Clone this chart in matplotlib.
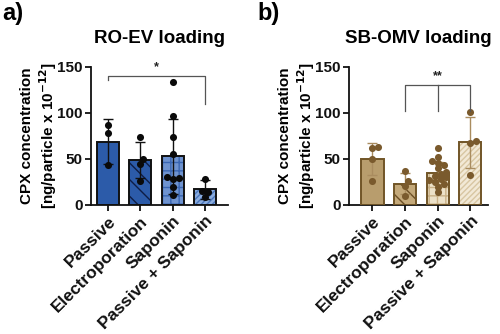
import numpy as np
import matplotlib
matplotlib.use("Agg")
import matplotlib.pyplot as plt

plt.rcParams['font.family'] = ['Liberation Sans', 'DejaVu Sans']
plt.rcParams['font.weight'] = 'bold'
plt.rcParams['hatch.linewidth'] = 1.0

groups = ["Passive", "Electroporation", "Saponin", "Passive + Saponin"]

# RO-EV loading (panel a)
ro_means = [69, 49, 53, 17]
ro_sd = [24, 20, 41, 10]
ro_points = [
    [87, 78, 43],
    [74, 50, 45, 26],
    [134, 97, 74, 55, 30, 29, 28, 20, 11],
    [28, 15, 14, 9],
]

# SB-OMV loading (panel b)
sb_means = [50, 23, 35, 68]
sb_sd = [17, 11.5, 12, 28]
sb_points = [
    [63, 62, 50, 26],
    [37, 26, 21, 10],
    [62, 52, 48, 46, 44, 40, 36, 34, 32, 30, 28, 27, 25, 23, 20, 14],
    [101, 70, 67, 33],
]

yticks = [0, 50, 100, 150]

ro_style = dict(
    face=["#2c5ba9", "#2c5ba9", "#6f93cf", "#8cadde"],
    hatch=[None, "\\\\", "++", "//////"],
    hatch_color=[None, "#0e1d45", "#3a66b2", "#4a76bb"],
    edge="#111111", err="#111111", dot="#0a0a0a",
)
sb_style = dict(
    face=["#b89d6d", "#c4a97a", "#ece1c8", "#f2e9d6"],
    hatch=[None, "\\\\", "++", "//////"],
    hatch_color=[None, "#6b4e24", "#c9b187", "#d8c6a2"],
    edge="#715527", err="#a98c5f", dot="#7a5a2d",
)

FIG_W, FIG_H = 500, 334


def swarm_offsets(vals, px_per_x, px_per_y, d=6.4):
    placed = []
    offs = np.zeros(len(vals))
    for i in np.argsort(vals):
        y = vals[i] * px_per_y
        xs = 0.0
        for k in [0, 1, -1, 2, -2, 3, -3, 4, -4]:
            x = k * d * 0.45
            if all((x - px) ** 2 + (y - py) ** 2 >= d * d * 0.6 for px, py in placed):
                xs = x
                break
        placed.append((xs, y))
        offs[i] = xs / px_per_x
    return offs


def panel(fig, rect_px, xlim, title, means, sds, points, st):
    l, r, b, t = rect_px
    ax = fig.add_axes([l / FIG_W, 1 - b / FIG_H, (r - l) / FIG_W, (b - t) / FIG_H])
    x = np.arange(len(groups))
    w = 0.68
    for i in range(len(groups)):
        if st["hatch"][i]:
            ax.bar(x[i], means[i], w, color=st["face"][i], edgecolor=st["hatch_color"][i],
                   hatch=st["hatch"][i], linewidth=0, zorder=2)
        else:
            ax.bar(x[i], means[i], w, color=st["face"][i], linewidth=0, zorder=2)
        ax.bar(x[i], means[i], w, fill=False, edgecolor=st["edge"], linewidth=1.4, zorder=3)
    ax.errorbar(x, means, yerr=sds, fmt="none", ecolor=st["err"], elinewidth=1.0,
                capsize=3.8, capthick=1.0, zorder=4)
    px_per_x = (r - l) / (xlim[1] - xlim[0])
    px_per_y = (b - t) / 150.0
    for i, vals in enumerate(points):
        vals = np.asarray(vals, dtype=float)
        offs = swarm_offsets(vals, px_per_x, px_per_y)
        ax.scatter(x[i] + offs, vals, s=26, color=st["dot"], zorder=5, linewidths=0)
    ax.set_xlim(*xlim)
    ax.set_ylim(0, 150)
    ax.set_yticks(yticks)
    ax.set_yticklabels([str(v) for v in yticks], fontsize=11, fontweight="bold")
    ax.set_xticks(x)
    ax.set_xticklabels(groups, rotation=45, ha="right", rotation_mode="anchor",
                       fontsize=12.5, fontweight="bold")
    for s in ["top", "right"]:
        ax.spines[s].set_visible(False)
    for s in ["left", "bottom"]:
        ax.spines[s].set_linewidth(1.3)
        ax.spines[s].set_color("#111111")
    ax.tick_params(axis="both", length=4, width=1.3, colors="#111111", pad=2)
    ax.set_ylabel("CPX concentration\n[ng/particle x 10$^{\\mathbf{-12}}$]", fontsize=11,
                  fontweight="bold", linespacing=1.15, labelpad=-1)
    ax.set_title(title, fontsize=13.5, fontweight="bold", pad=17)
    ax.patch.set_alpha(0)
    return ax


fig = plt.figure(figsize=(FIG_W / 100, FIG_H / 100), dpi=100)

axa = panel(fig, (91, 228, 205, 67), (-0.53, 3.71), "RO-EV loading",
            ro_means, ro_sd, ro_points, ro_style)
axb = panel(fig, (349, 488, 205, 67), (-0.72, 3.54), "SB-OMV loading",
            sb_means, sb_sd, sb_points, sb_style)

# significance brackets
bk = "#555555"
axa.plot([0, 0, 3, 3], [136, 140, 140, 110], color=bk, lw=0.9, clip_on=False, zorder=6)
axa.text(1.5, 143, "*", ha="center", va="bottom", fontsize=9, fontweight="bold", color="#222222")
axb.plot([1, 1, 3, 3], [102, 130, 130, 102], color=bk, lw=0.9, clip_on=False, zorder=6)
axb.plot([2, 2], [130, 102], color=bk, lw=0.9, clip_on=False, zorder=6)
axb.text(2, 133, "**", ha="center", va="bottom", fontsize=9, fontweight="bold", color="#222222")

fig.text(0.004, 0.995, "a)", fontsize=17, fontweight="bold", va="top", ha="left")
fig.text(0.514, 0.995, "b)", fontsize=17, fontweight="bold", va="top", ha="left")

fig.savefig("out.png", dpi=100)
